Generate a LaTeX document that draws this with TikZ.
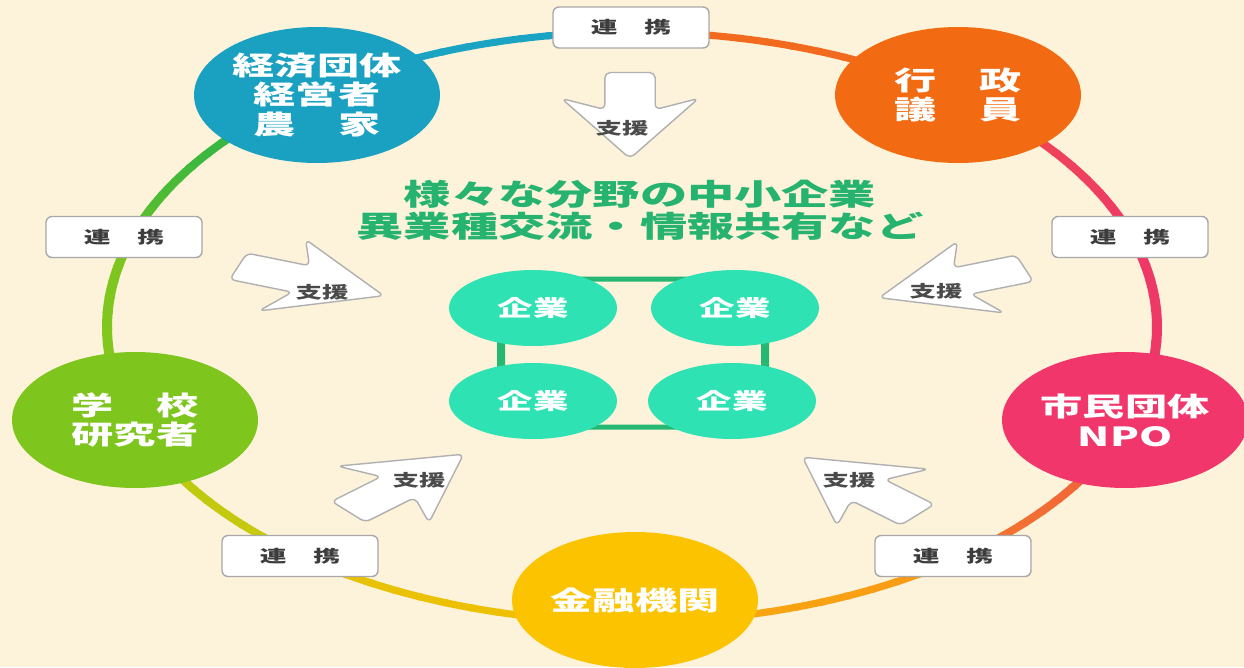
\documentclass[tikz,border=0pt]{standalone}
\usepackage{fontspec}
\newfontfamily\jp[FakeStretch=1.6]{Noto Sans CJK JP}
\usetikzlibrary{shapes.geometric}
\definecolor{bg}{HTML}{FDF2DA}
\definecolor{keizaiC}{HTML}{1AA1C1}
\definecolor{gyoseiC}{HTML}{F26A12}
\definecolor{shiminC}{HTML}{F0366A}
\definecolor{kinyuC}{HTML}{FCC400}
\definecolor{gakkoC}{HTML}{7EC51E}
\definecolor{mintC}{HTML}{2EE2B3}
\definecolor{clusterC}{HTML}{25B873}
\definecolor{titleC}{HTML}{26B36F}
\definecolor{lblgray}{HTML}{A8A8A8}
\definecolor{lbltext}{HTML}{3D3D3D}
\definecolor{shientext}{HTML}{4A4A4A}
\definecolor{arrowgray}{HTML}{B0B0B0}
% ring colour stops
\definecolor{sAa}{HTML}{EF3A66}\definecolor{sAb}{HTML}{F04A50}
\definecolor{sBa}{HTML}{F26A1E}\definecolor{sBb}{HTML}{F26A1E}
\definecolor{sCa}{HTML}{1BA3C4}\definecolor{sCb}{HTML}{1BA3C4}
\definecolor{sDa}{HTML}{1DB152}\definecolor{sDb}{HTML}{5CBF2C}
\definecolor{sEa}{HTML}{7CC520}\definecolor{sEb}{HTML}{86C81C}
\definecolor{sFa}{HTML}{B5CB10}\definecolor{sFb}{HTML}{CCC80C}
\definecolor{sGa}{HTML}{E6C204}\definecolor{sGb}{HTML}{F5BF00}
\definecolor{sHa}{HTML}{F8AC0C}\definecolor{sHb}{HTML}{F89A16}
\definecolor{sIa}{HTML}{F47A2C}\definecolor{sIb}{HTML}{F05A40}
\definecolor{sJa}{HTML}{EE3866}\definecolor{sJb}{HTML}{EE3866}
\newcommand\ringseg[4]{%
  \foreach \i in {0,...,11}{%
    \pgfmathsetmacro\rgA{#1+(#2-#1)*\i/12}%
    \pgfmathsetmacro\rgB{#1+(#2-#1)*(\i+1)/12+0.4}%
    \pgfmathtruncatemacro\rgP{100*\i/11}%
    \fill[#4!\rgP!#3] plot[domain=\rgA:\rgB, samples=4] ({632+530*cos(\x)},{327-298.5*sin(\x)})
      -- plot[domain=\rgB:\rgA, samples=4] ({632+520*cos(\x)},{327-291.5*sin(\x)}) -- cycle;
  }}
\begin{document}
\begin{tikzpicture}[x=0.02cm, y=-0.02cm,
  org/.style={ellipse, minimum width=4.92cm, minimum height=2.72cm, inner sep=0pt,
    text=white, align=center, font=\jp\bfseries\fontsize{15}{17}\selectfont},
  renkei/.style={draw=lblgray, line width=0.8pt, fill=white, rounded corners=0.12cm,
    minimum width=3.12cm, minimum height=0.82cm, inner sep=0pt, text=lbltext,
    font=\jp\bfseries\fontsize{9.5}{11}\selectfont},
  kigyo/.style={ellipse, fill=mintC, minimum width=3.36cm, minimum height=1.52cm,
    inner sep=0pt, text=white, font=\jp\bfseries\fontsize{12.6}{14}\selectfont},
  shien/.style={inner sep=0pt, text=shientext, font=\jp\bfseries\fontsize{9.4}{11}\selectfont},
  arrowshape/.style={draw=arrowgray, fill=white, line width=0.8pt, rounded corners=0.11cm, line join=round},
  titletext/.style={align=center, text=titleC, font=\jp\bfseries\fontsize{16.8}{18.1}\selectfont}
]
% background
\fill[bg] (0,0) rectangle (1244,667);
\useasboundingbox (0,0) rectangle (1244,667);

% ring
\ringseg{18}{54}{sAa}{sAb}
\ringseg{54}{90}{sBa}{sBb}
\ringseg{90}{126}{sCa}{sCb}
\ringseg{126}{162}{sDa}{sDb}
\ringseg{162}{198}{sEa}{sEb}
\ringseg{198}{234}{sFa}{sFb}
\ringseg{234}{270}{sGa}{sGb}
\ringseg{270}{306}{sHa}{sHb}
\ringseg{306}{342}{sIa}{sIb}
\ringseg{342}{378}{sJa}{sJb}

% cluster ring behind the companies
\coordinate (clA) at (497,276.5);
\coordinate (clB) at (769,429.5);
\coordinate (clC) at (505,281.5);
\coordinate (clD) at (761,424.5);
\fill[clusterC, even odd rule, rounded corners=0.7cm] (clA) rectangle (clB) (clC) rectangle (clD);

% organisation circles
\node[org, fill=keizaiC] (keizai) at (317,95) {経済団体\\経営者\\農　家};
\node[org, fill=gyoseiC] (gyosei) at (958,95) {行　政\\議　員};
\node[org, fill=shiminC] (shimin) at (1125,420) {市民団体\\NPO};
\node[org, fill=kinyuC] (kinyu) at (635,600) {金融機関};
\node[org, fill=gakkoC] (gakko) at (135,420) {学　校\\研究者};

% renkei labels
\node[renkei] (r1) at (631,27.5) {連　携};
\node[renkei] (r2) at (124,237) {連　携};
\node[renkei] (r3) at (1130,237) {連　携};
\node[renkei] (r4) at (300,556) {連　携};
\node[renkei] (r5) at (953,556) {連　携};

% support arrows
\foreach \cx/\cy/\ang in {630/115.5/-90, 311/281/-20, 952/283/200, 406/483/42, 860/486/138}{
  \begin{scope}[shift={(\cx,\cy)}, xscale=1.8, rotate=\ang]
    \draw[arrowshape] (-43,14) -- (-6,14) -- (-17,38) -- (43,0) -- (-17,-38) -- (-6,-14) -- (-43,-14) -- cycle;
  \end{scope}}
\node[shien] (s1) at (622,128) {支援};
\node[shien] (s2) at (322,292) {支援};
\node[shien] (s3) at (936,291) {支援};
\node[shien] (s4) at (419,480) {支援};
\node[shien] (s5) at (849,480) {支援};

% title
\node[titletext] (title) at (640,210) {様々な分野の中小企業\\異業種交流・情報共有など};

% companies
\node[kigyo] (k1) at (533,308) {企業};
\node[kigyo] (k2) at (735,308) {企業};
\node[kigyo] (k3) at (533,401) {企業};
\node[kigyo] (k4) at (732,401) {企業};
\end{tikzpicture}
\end{document}
